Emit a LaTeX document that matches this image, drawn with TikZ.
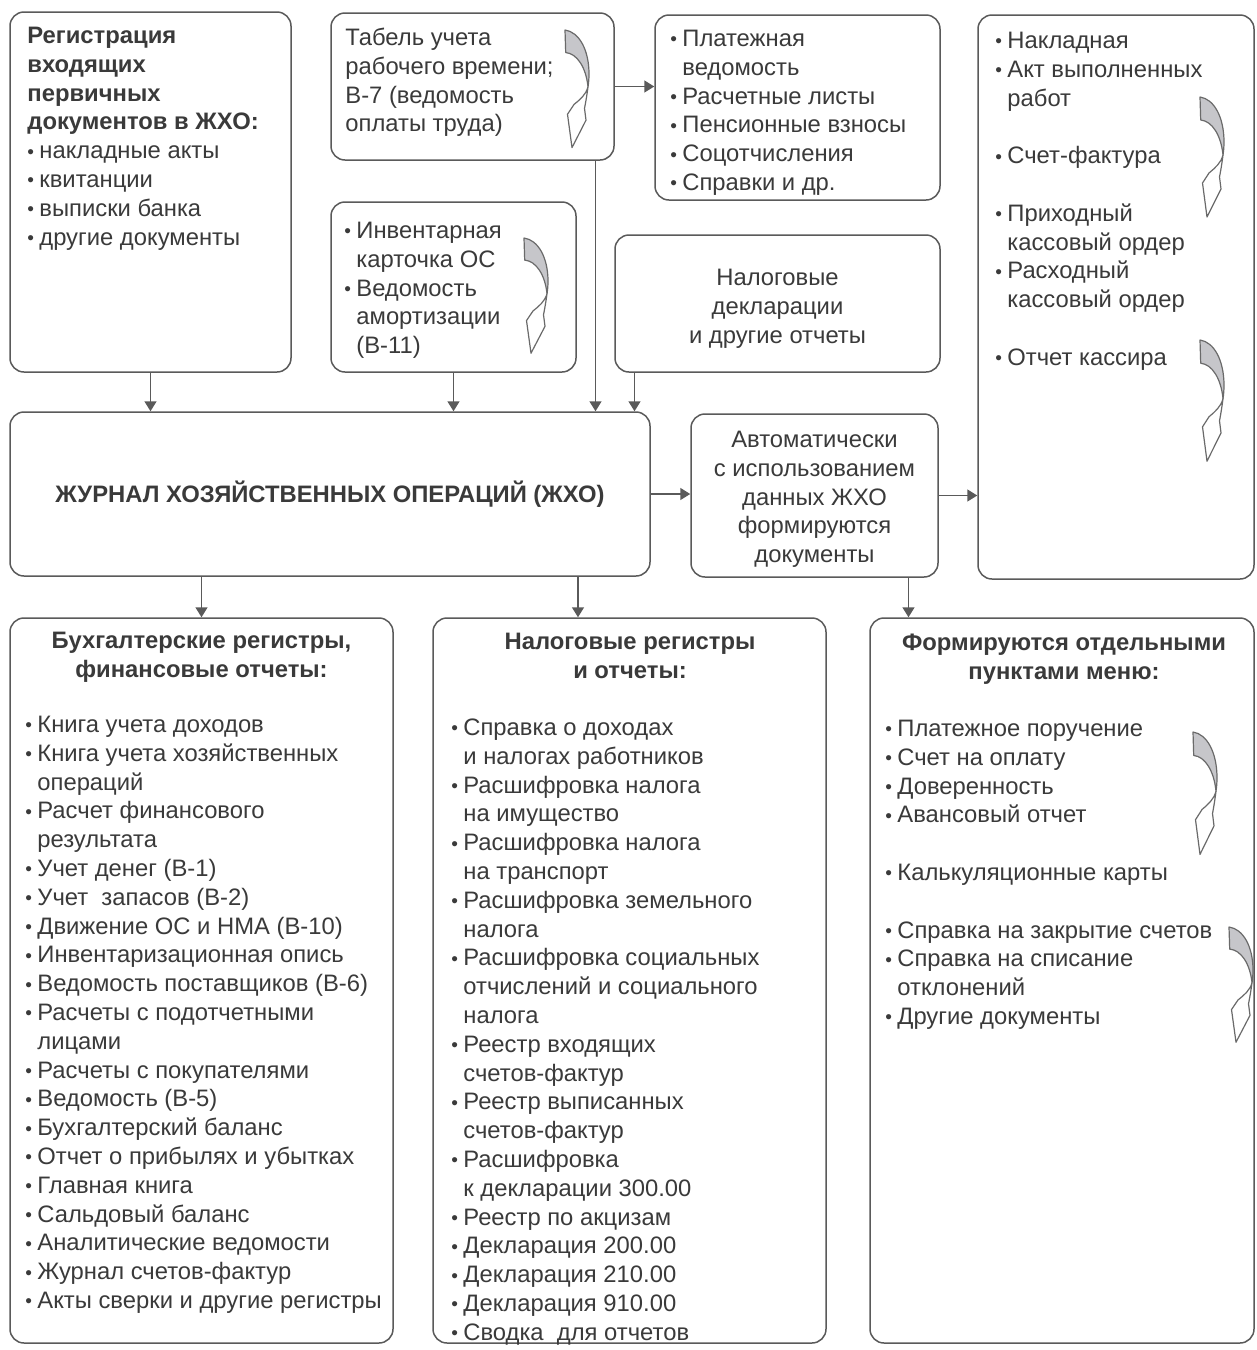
\documentclass[tikz,border=0pt]{standalone}
\usepackage{fontspec}
\setmainfont{Liberation Sans}
\usetikzlibrary{arrows.meta,calc}
\definecolor{ink}{HTML}{3A3A3A}
\definecolor{edgec}{HTML}{5A5A5A}
\definecolor{curlgrey}{HTML}{C6C6CA}
\definecolor{curledge}{HTML}{6A6A6A}
\newcommand\myfs{\fontsize{11.9pt}{14.4pt}\selectfont}
\newcommand\fl{\rule{0pt}{11pt}}
\newcommand\bul{\makebox[6pt][l]{\raisebox{0.3pt}{\scalebox{0.8}{•}}}}
\newcommand\ind{\hspace*{6pt}}
\tikzset{
  curl/.pic={
    \filldraw[fill=curlgrey, draw=curledge, line width=0.6pt, line join=round]
      (0,0) .. controls (14,2) and (24,20) .. (24,45) .. controls (24,50) and (23.5,55) .. (23,58)
      .. controls (21,38) and (12,24) .. (0.7,23) -- cycle;
    \filldraw[fill=white, draw=curledge, line width=0.6pt, line join=round]
      (23,58) .. controls (22,66) and (21,72) .. (19.5,80) -- (21,92) -- (7,120) -- (2.5,86) -- (9,76)
      .. controls (15,71) and (21,66) .. (23,58) -- cycle;
  }
}
\begin{document}
\begin{tikzpicture}[x=0.5pt,y=-0.5pt,
  box/.style={draw=edgec, line width=0.75pt, rounded corners=7pt, rectangle, inner sep=0pt},
  txt/.style={inner sep=0pt, anchor=north west, align=left, text=ink, font=\myfs},
  ctxt/.style={inner sep=0pt, anchor=north, align=center, text=ink, font=\myfs},
  arr/.style={draw=edgec, line width=0.75pt, -{Triangle[length=5pt,width=6pt]}}]
\fill[white] (0,0) rectangle (1257,1350);
\useasboundingbox (0,0) rectangle (1257,1350);

% boxes
\node[box, minimum width=140.5pt, minimum height=180pt] (A) at (150.5,192) {};
\node[box, minimum width=141.5pt, minimum height=73.5pt] (B) at (472.5,86.5) {};
\node[box, minimum width=122.5pt, minimum height=85pt] (C) at (453.5,287) {};
\node[box, minimum width=142.5pt, minimum height=92.5pt] (D) at (797.5,107.5) {};
\node[box, minimum width=138pt, minimum height=282pt] (E) at (1116,297) {};
\node[box, minimum width=162.5pt, minimum height=68.5pt] (F) at (777.5,303.5) {};
\node[box, minimum width=320pt, minimum height=82pt] (X) at (330,494) {};
\node[box, minimum width=123.5pt, minimum height=81.5pt] (G) at (814.5,495.5) {};
\node[box, minimum width=191.5pt, minimum height=362.5pt] (H) at (201.5,980.5) {};
\node[box, minimum width=196.5pt, minimum height=362.5pt] (I) at (629.5,980.5) {};
\node[box, minimum width=192pt, minimum height=362.5pt] (J) at (1062,980.5) {};

% texts
\node[txt] (tA) at (27,21) {\fl\textbf{Регистрация}\\ \textbf{входящих}\\ \textbf{первичных}\\ \textbf{документов в ЖХО:}\\ \bul накладные акты\\ \bul квитанции\\ \bul выписки банка\\ \bul другие документы};
\node[txt] (tB) at (345,23) {\fl Табель учета\\ рабочего времени;\\ В-7 (ведомость\\ оплаты труда)};
\node[txt] (tC) at (344,216) {\fl\bul Инвентарная\\ \ind карточка ОС\\ \bul Ведомость\\ \ind амортизации\\ \ind (В-11)};
\node[txt] (tD) at (670,24) {\fl\bul Платежная\\ \ind ведомость\\ \bul Расчетные листы\\ \bul Пенсионные взносы\\ \bul Соцотчисления\\ \bul Справки и др.};
\node[txt] (tE) at (995,26) {\fl\bul Накладная\\ \bul Акт выполненных\\ \ind работ\\[14.4pt] \bul Счет-фактура\\[14.4pt] \bul Приходный\\ \ind кассовый ордер\\ \bul Расходный\\ \ind кассовый ордер\\[14.4pt] \bul Отчет кассира};
\node[ctxt] (tF) at (777.5,263) {\fl Налоговые\\ декларации\\ и другие отчеты};
\node[inner sep=0pt, anchor=base, text=ink, font=\myfs\bfseries] (tX) at (330,502) {ЖУРНАЛ ХОЗЯЙСТВЕННЫХ ОПЕРАЦИЙ (ЖХО)};
\node[ctxt] (tG) at (814.5,425) {\fl Автоматически\\ с использованием\\ данных ЖХО\\ формируются\\ документы};
\node[ctxt, font=\myfs\bfseries] (hH) at (201.5,626) {\fl Бухгалтерские регистры,\\ финансовые отчеты:};
\node[txt] (tH) at (25,710) {\fl\bul Книга учета доходов\\ \bul Книга учета хозяйственных\\ \ind операций\\ \bul Расчет финансового\\ \ind результата\\ \bul Учет денег (В-1)\\ \bul Учет\ \ запасов (В-2)\\ \bul Движение ОС и НМА (В-10)\\ \bul Инвентаризационная опись\\ \bul Ведомость поставщиков (В-6)\\ \bul Расчеты с подотчетными\\ \ind лицами\\ \bul Расчеты с покупателями\\ \bul Ведомость (В-5)\\ \bul Бухгалтерский баланс\\ \bul Отчет о прибылях и убытках\\ \bul Главная книга\\ \bul Сальдовый баланс\\ \bul Аналитические ведомости\\ \bul Журнал счетов-фактур\\ \bul Акты сверки и другие регистры};
\node[ctxt, font=\myfs\bfseries] (hI) at (630,627) {\fl Налоговые регистры\\ и отчеты:};
\node[txt] (tI) at (451,713) {\fl\bul Справка о доходах\\ \ind и налогах работников\\ \bul Расшифровка налога\\ \ind на имущество\\ \bul Расшифровка налога\\ \ind на транспорт\\ \bul Расшифровка земельного\\ \ind налога\\ \bul Расшифровка социальных\\ \ind отчислений и социального\\ \ind налога\\ \bul Реестр входящих\\ \ind счетов-фактур\\ \bul Реестр выписанных\\ \ind счетов-фактур\\ \bul Расшифровка\\ \ind к декларации 300.00\\ \bul Реестр по акцизам\\ \bul Декларация 200.00\\ \bul Декларация 210.00\\ \bul Декларация 910.00\\ \bul Сводка\ \ для отчетов};
\node[ctxt, font=\myfs\bfseries] (hJ) at (1064,628) {\fl Формируются отдельными\\ пунктами меню:};
\node[txt] (tJ) at (885,714) {\fl\bul Платежное поручение\\ \bul Счет на оплату\\ \bul Доверенность\\ \bul Авансовый отчет\\[14.4pt] \bul Калькуляционные карты\\[14.4pt] \bul Справка на закрытие счетов\\ \bul Справка на списание\\ \ind отклонений\\ \bul Другие документы};

% curly arrows
\pic[yscale=0.98] at (565,30) {curl};
\pic[yscale=0.96] at (524,238) {curl};
\pic at (1200,97) {curl};
\pic[yscale=1.01] at (1200,340) {curl};
\pic[yscale=1.02] at (1193,732) {curl};
\pic[yscale=0.96] at (1229,927) {curl};

% connectors
\draw[arr] (A.south) -- (A.south |- X.north);
\draw[arr] (C.south) -- (C.south |- X.north);
\draw[arr] ([xshift=61.5pt]B.south) -- ([xshift=61.5pt]B.south |- X.north);
\draw[arr] ([xshift=-71.5pt]F.south) -- ([xshift=-71.5pt]F.south |- X.north);
\draw[arr] (B.east) -- (B.east -| D.west);
\draw[arr] (X.east) -- (X.east -| G.west);
\draw[arr] (G.east) -- (G.east -| E.west);
\draw[arr] ([xshift=47pt]G.south) -- ([xshift=47pt]G.south |- J.north);
\draw[arr] (H.north |- X.south) -- (H.north);
\draw[arr] ([xshift=124pt]X.south) -- ([xshift=124pt]X.south |- I.north);
\end{tikzpicture}
\end{document}
